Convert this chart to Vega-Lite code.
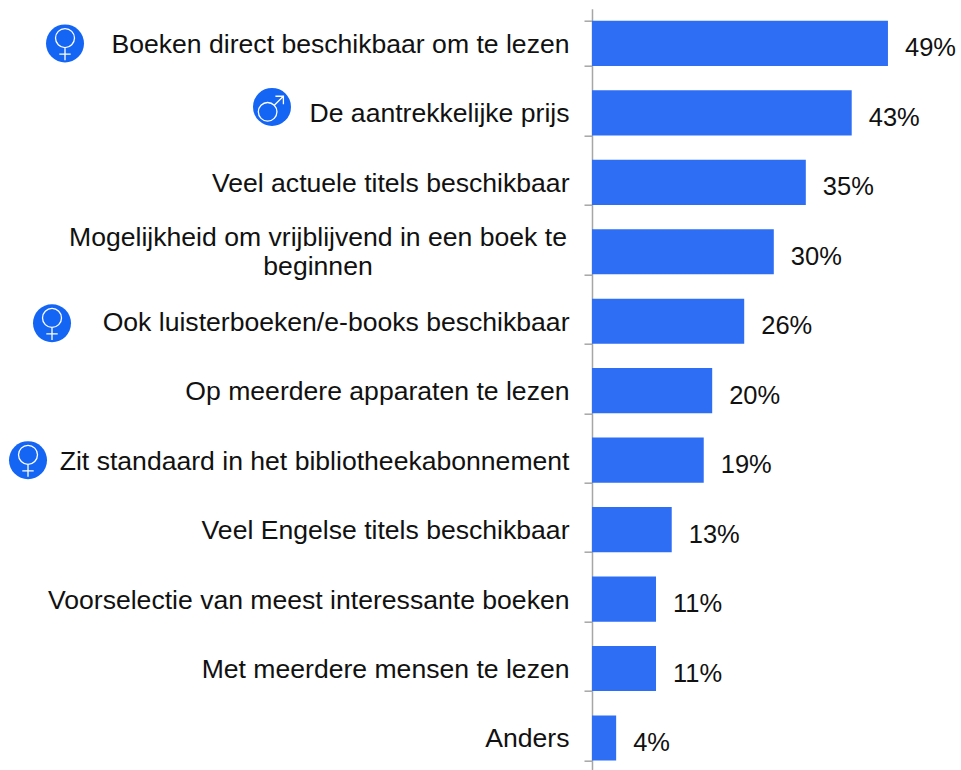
{"$schema":"https://vega.github.io/schema/vega-lite/v6.json","width":362.4,"height":764,"padding":{"left":592,"top":8.7,"right":6.6,"bottom":0},"autosize":"none","background":"white","config":{"view":{"stroke":null},"font":"Liberation Sans"},"data":{"values":[{"label":"Boeken direct beschikbaar om te lezen","v":49,"pct":"49%","icon":"f1"},{"label":"De aantrekkelijke prijs","v":43,"pct":"43%","icon":"m"},{"label":"Veel actuele titels beschikbaar","v":35.4,"pct":"35%"},{"label":"Mogelijkheid om vrijblijvend in een boek te|beginnen","v":30.1,"pct":"30%"},{"label":"Ook luisterboeken/e-books beschikbaar","v":25.2,"pct":"26%","icon":"f2"},{"label":"Op meerdere apparaten te lezen","v":19.9,"pct":"20%"},{"label":"Zit standaard in het bibliotheekabonnement","v":18.5,"pct":"19%","icon":"f3"},{"label":"Veel Engelse titels beschikbaar","v":13.2,"pct":"13%"},{"label":"Voorselectie van meest interessante boeken","v":10.6,"pct":"11%"},{"label":"Met meerdere mensen te lezen","v":10.6,"pct":"11%"},{"label":"Anders","v":4,"pct":"4%"}]},"encoding":{"y":{"field":"label","type":"nominal","sort":null,"scale":{"paddingInner":0.35,"paddingOuter":0.175},"title":null,"axis":{"tickBand":"extent","domainColor":"#A6A6A6","domainWidth":1.5,"tickColor":"#A6A6A6","tickWidth":1.5,"tickSize":8,"labelFontSize":26.6,"labelColor":"#111111","labelPadding":15,"labelOffset":1,"labelLimit":600,"labelExpr":"indexof(datum.label,'|')>=0?'':datum.label"}}},"layer":[{"mark":{"type":"bar","color":"#2D6EF5"},"encoding":{"x":{"field":"v","type":"quantitative","scale":{"domain":[0,60]},"axis":null}}},{"mark":{"type":"text","align":"left","baseline":"middle","dx":17,"dy":5,"fontSize":25.5,"color":"#111111"},"encoding":{"x":{"field":"v","type":"quantitative"},"text":{"field":"pct"}}},{"transform":[{"filter":"indexof(datum.label,'|')>=0"}],"mark":{"type":"text","align":"center","baseline":"middle","xOffset":-274,"yOffset":-14,"lineBreak":"|","lineHeight":29,"fontSize":26.6,"color":"#111111"},"encoding":{"x":{"datum":0,"type":"quantitative"},"text":{"field":"label"}}},{"transform":[{"filter":"datum.icon=='f1'"}],"mark":{"type":"point","shape":"circle","filled":true,"opacity":1,"size":1444,"color":"#1565F5","xOffset":-527},"encoding":{"x":{"datum":0,"type":"quantitative"}}},{"transform":[{"filter":"datum.icon=='f1'"}],"mark":{"type":"point","filled":false,"opacity":1,"strokeWidth":1.3,"color":"white","size":1444,"xOffset":-527,"shape":"M-0.5,-0.28A0.5,0.5 0 1,0 0.5,-0.28A0.5,0.5 0 1,0 -0.5,-0.28M0,0.22L0,0.88M-0.3,0.56L0.3,0.56"},"encoding":{"x":{"datum":0,"type":"quantitative"}}},{"transform":[{"filter":"datum.icon=='m'"}],"mark":{"type":"point","shape":"circle","filled":true,"opacity":1,"size":1444,"color":"#1565F5","xOffset":-320,"yOffset":-6},"encoding":{"x":{"datum":0,"type":"quantitative"}}},{"transform":[{"filter":"datum.icon=='m'"}],"mark":{"type":"point","filled":false,"opacity":1,"strokeWidth":1.3,"color":"white","size":1444,"xOffset":-320,"yOffset":-6,"shape":"M-0.72,0.26A0.49,0.49 0 1,0 0.26,0.26A0.49,0.49 0 1,0 -0.72,0.26M0.12,-0.09L0.6,-0.56M0.18,-0.56L0.6,-0.56L0.6,-0.14"},"encoding":{"x":{"datum":0,"type":"quantitative"}}},{"transform":[{"filter":"datum.icon=='f2'"}],"mark":{"type":"point","shape":"circle","filled":true,"opacity":1,"size":1444,"color":"#1565F5","xOffset":-540,"yOffset":2},"encoding":{"x":{"datum":0,"type":"quantitative"}}},{"transform":[{"filter":"datum.icon=='f2'"}],"mark":{"type":"point","filled":false,"opacity":1,"strokeWidth":1.3,"color":"white","size":1444,"xOffset":-540,"yOffset":2,"shape":"M-0.5,-0.28A0.5,0.5 0 1,0 0.5,-0.28A0.5,0.5 0 1,0 -0.5,-0.28M0,0.22L0,0.88M-0.3,0.56L0.3,0.56"},"encoding":{"x":{"datum":0,"type":"quantitative"}}},{"transform":[{"filter":"datum.icon=='f3'"}],"mark":{"type":"point","shape":"circle","filled":true,"opacity":1,"size":1444,"color":"#1565F5","xOffset":-564},"encoding":{"x":{"datum":0,"type":"quantitative"}}},{"transform":[{"filter":"datum.icon=='f3'"}],"mark":{"type":"point","filled":false,"opacity":1,"strokeWidth":1.3,"color":"white","size":1444,"xOffset":-564,"shape":"M-0.5,-0.28A0.5,0.5 0 1,0 0.5,-0.28A0.5,0.5 0 1,0 -0.5,-0.28M0,0.22L0,0.88M-0.3,0.56L0.3,0.56"},"encoding":{"x":{"datum":0,"type":"quantitative"}}}]}
